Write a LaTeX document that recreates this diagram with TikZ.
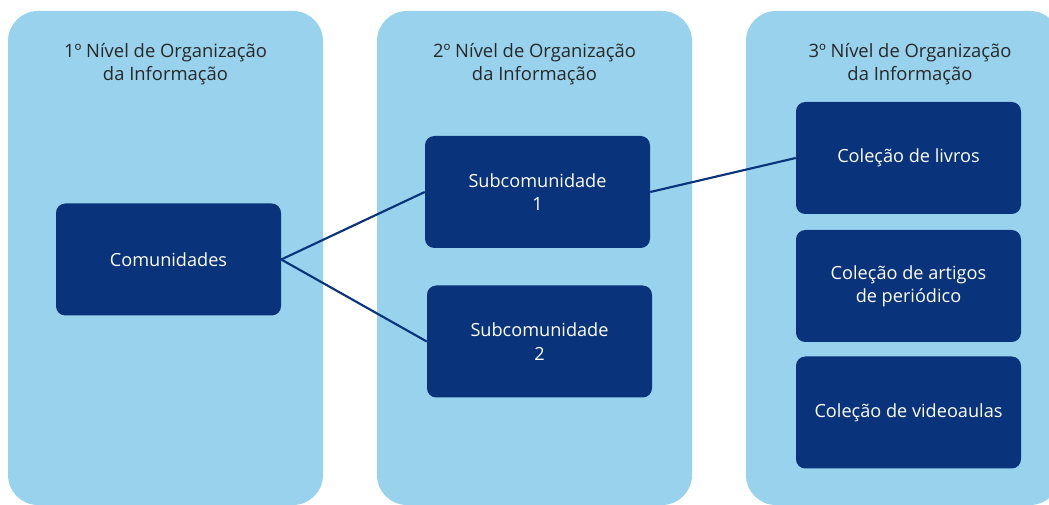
\documentclass[tikz,border=0pt]{standalone}
\usepackage{fontspec}
\setmainfont{Open Sans}
\definecolor{panelblue}{RGB}{152,210,236}
\definecolor{boxblue}{RGB}{9,51,122}
\definecolor{headgray}{RGB}{40,40,40}
\begin{document}
\begin{tikzpicture}[x=0.75pt,y=-0.75pt,
  panel/.style={fill=panelblue,rounded corners=22.5pt},
  box/.style={fill=boxblue,rounded corners=7pt,text=white,align=center,
    minimum width=168.75pt,minimum height=84pt,inner sep=0pt,
    font=\fontsize{13.6}{17.5}\selectfont},
  head/.style={text=headgray,align=center,font=\fontsize{13.8}{17.5}\selectfont},
  link/.style={draw=boxblue,line width=1.6pt}]
\clip (0,0) rectangle (1049,505);
\useasboundingbox (0,0) rectangle (1049,505);
\fill[panel] (8,11) rectangle (323,505);
\fill[panel] (377,11) rectangle (692,505);
\fill[panel] (746,11) rectangle (1060,505);
\node[head] (h1) at (165.5,64.5) {1º Nível de Organização\\da Informação};
\node[head] (h2) at (534.5,64.5) {2º Nível de Organização\\da Informação};
\node[head] (h3) at (910,64.5) {3º Nível de Organização\\da Informação};
\node[box] (com) at (168.5,259.5) {Comunidades};
\node[box] (s1) at (537.5,192) {Subcomunidade\\1};
\node[box] (s2) at (539.5,341.5) {Subcomunidade\\2};
\node[box] (c1) at (908.5,158) {Coleção de livros};
\node[box] (c2) at (908.5,286) {Coleção de artigos\\de periódico};
\node[box] (c3) at (908.5,412.5) {Coleção de videoaulas};
\draw[link] (com.east) -- (s1.west);
\draw[link] (com.east) -- (s2.west);
\draw[link] (s1.east) -- (c1.west);
\end{tikzpicture}
\end{document}
